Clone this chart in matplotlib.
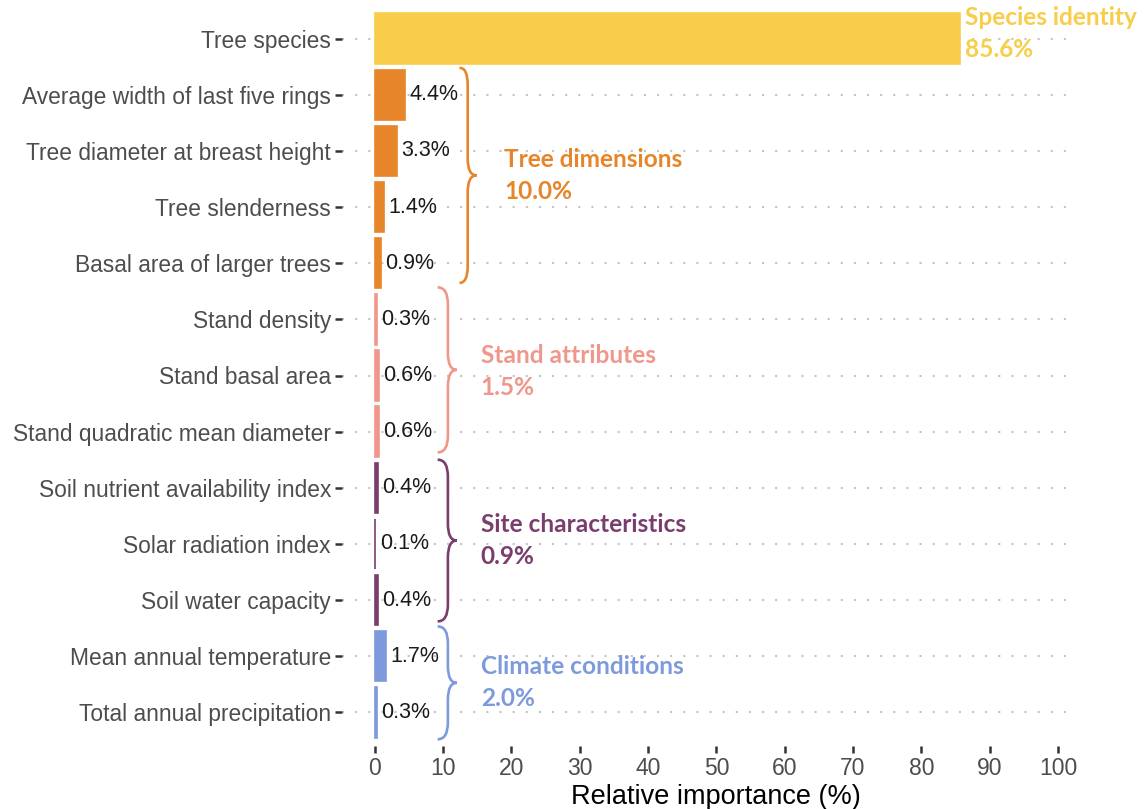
import matplotlib.pyplot as plt
from matplotlib.path import Path
from matplotlib.patches import PathPatch

variables = ["Tree species", "Average width of last five rings", "Tree diameter at breast height",
             "Tree slenderness", "Basal area of larger trees", "Stand density", "Stand basal area",
             "Stand quadratic mean diameter", "Soil nutrient availability index", "Solar radiation index",
             "Soil water capacity", "Mean annual temperature", "Total annual precipitation"]
importance = [85.6, 4.4, 3.3, 1.4, 0.9, 0.3, 0.6, 0.6, 0.4, 0.1, 0.4, 1.7, 0.3]
groups = ["species", "tree", "tree", "tree", "tree", "stand", "stand", "stand",
          "site", "site", "site", "climate", "climate"]

group_names = ["Species identity", "Tree dimensions", "Stand attributes", "Site characteristics", "Climate conditions"]
group_keys = ["species", "tree", "stand", "site", "climate"]
group_totals = ["85.6%", "10.0%", "1.5%", "0.9%", "2.0%"]

colors = {"species": "#F7CD4A", "tree": "#E6852A", "stand": "#F0978C",
          "site": "#7A3E6E", "climate": "#7D9BDC"}

plt.rcParams['font.family'] = ['Liberation Sans', 'DejaVu Sans']

fig = plt.figure(figsize=(11.47, 8.09), dpi=100)
ax = fig.add_axes([342 / 1147, 1 - 746 / 809, (1073 - 342) / 1147, (746 - 5) / 809])

ypos = list(range(len(variables)))
bar_colors = [colors[g] for g in groups]

# dotted grid lines behind the bars
for y in ypos:
    ax.axhline(y, color="#C4C4C4", lw=1.5, ls=(0, (1, 5.3)), zorder=0)

ax.barh(ypos, importance, height=0.9, color=bar_colors, edgecolor=bar_colors,
        linewidth=1.2, zorder=2)

for y, v, g in zip(ypos, importance, groups):
    if g == "species":
        continue
    ax.annotate(f"{v:.1f}%", (v, y), xytext=(3, 0), textcoords="offset points",
                ha="left", va="center", fontsize=15.5, color="#1a1a1a")


def brace(x0, x1, x2, ytop, ybot, color, r=0.3):
    ymid = (ytop + ybot) / 2
    verts = [(x0, ytop), (x1, ytop), (x1, ytop + r),
             (x1, ymid - r), (x1, ymid), (x2, ymid),
             (x1, ymid), (x1, ymid + r),
             (x1, ybot - r), (x1, ybot), (x0, ybot)]
    codes = [Path.MOVETO, Path.CURVE3, Path.CURVE3,
             Path.LINETO, Path.CURVE3, Path.CURVE3,
             Path.CURVE3, Path.CURVE3,
             Path.LINETO, Path.CURVE3, Path.CURVE3]
    ax.add_patch(PathPatch(Path(verts, codes), fc="none", ec=color, lw=1.9,
                           clip_on=False, zorder=3))


brace(12.4, 13.6, 14.9, 0.52, 4.35, colors["tree"])
brace(9.2, 10.7, 12.0, 4.43, 7.37, colors["stand"])
brace(9.2, 10.7, 12.0, 7.5, 10.38, colors["site"])
brace(9.2, 10.7, 12.0, 10.47, 12.48, colors["climate"])

label_pos = {"species": (86.4, -0.37), "tree": (18.9, 2.15), "stand": (15.5, 5.64),
             "site": (15.5, 8.65), "climate": (15.5, 11.18)}
for name, key, tot in zip(group_names, group_keys, group_totals):
    x, y = label_pos[key]
    ax.text(x, y, name, color=colors[key], fontsize=17.6, fontweight="bold",
            family=["Lato", "DejaVu Sans"], ha="left", va="center", clip_on=False)
    ax.text(x, y + 0.57, tot, color=colors[key], fontsize=17.6, fontweight="bold",
            family=["Lato", "DejaVu Sans"], ha="left", va="center", clip_on=False)

ax.set_xlim(-4.8, 102.2)
ax.set_ylim(12.6, -0.6)
ax.set_yticks(ypos)
ax.set_yticklabels(variables)
ax.set_xticks(range(0, 101, 10))
ax.tick_params(axis="both", colors="#333333", labelcolor="#4D4D4D", length=5, width=1.8)
ax.tick_params(axis="y", labelsize=16.4, pad=3)
ax.tick_params(axis="x", labelsize=16.5, pad=3)
ax.set_xlabel("Relative importance (%)", fontsize=19.5, color="black")
ax.xaxis.set_label_coords((716 - 342) / 731, -0.051)
for s in ax.spines.values():
    s.set_visible(False)

fig.savefig("out.png", dpi=100)
